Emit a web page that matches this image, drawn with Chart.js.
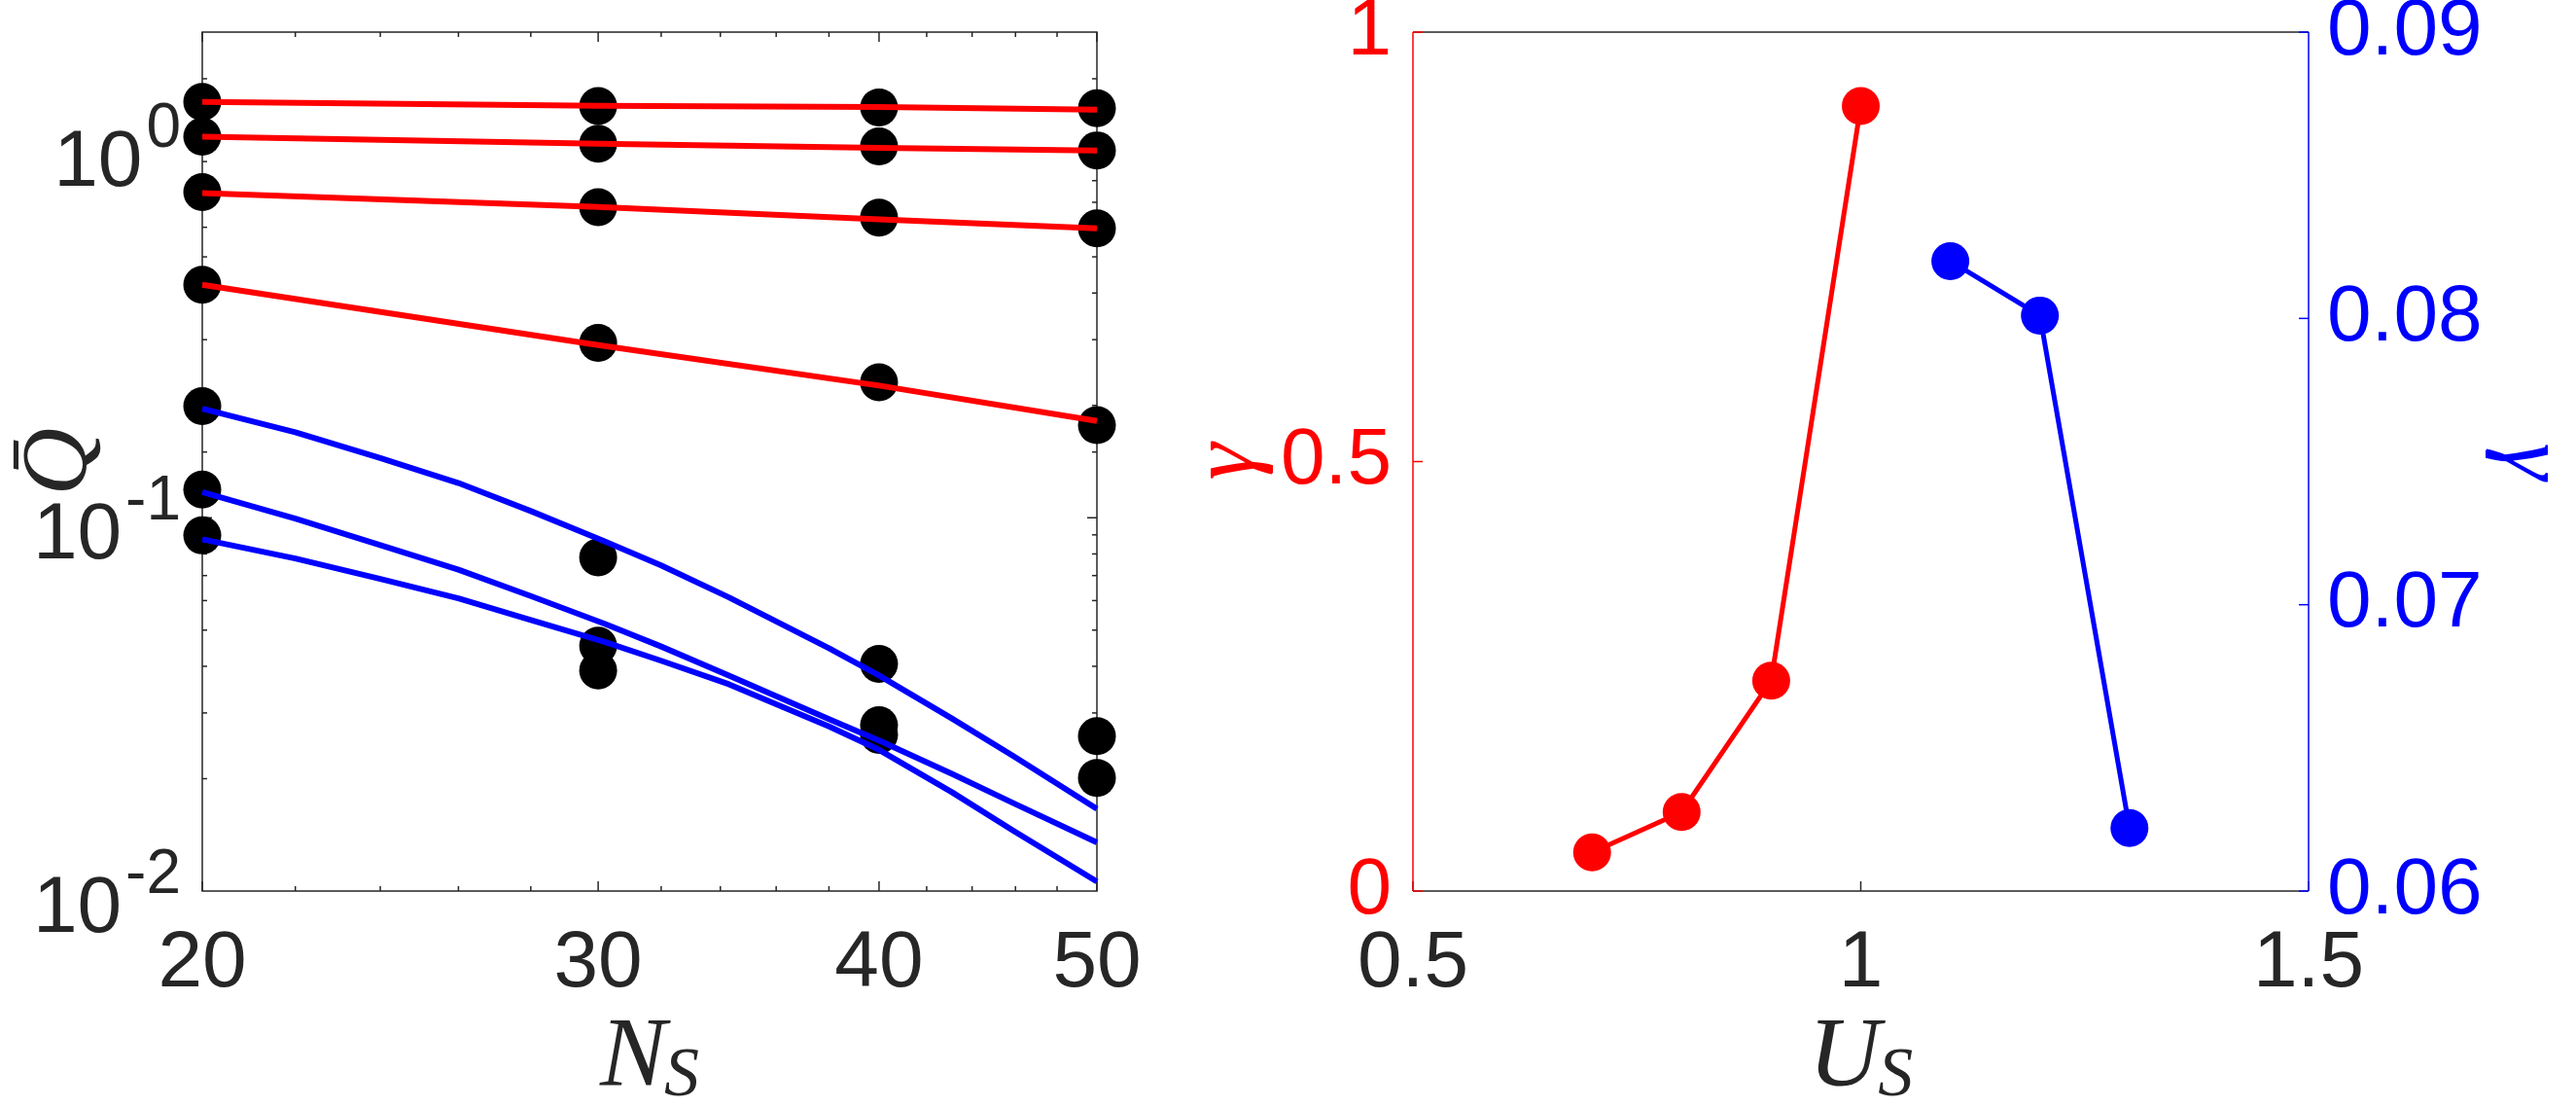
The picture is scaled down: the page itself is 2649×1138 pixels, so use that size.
<!DOCTYPE html>
<html lang="en">
<head>
<meta charset="UTF-8">
<title>Q bar vs N_S and gamma vs U_S</title>
<script src="https://cdn.jsdelivr.net/npm/chart.js"></script>
<style>
  html, body { margin: 0; padding: 0; background: #fff; }
  body { width: 2649px; height: 1138px; position: relative; overflow: hidden; }
  #leftWrap { position: absolute; left: 0; top: 0; width: 1200px; height: 1138px; }
  #rightWrap { position: absolute; left: 1200px; top: 0; width: 1449px; height: 1138px; }
</style>
</head>
<body>
<div id="leftWrap"><canvas id="qChart" width="1200" height="1138"></canvas></div>
<div id="rightWrap"><canvas id="gammaChart" width="1449" height="1138"></canvas></div>
<script>
// ---- left panel: Q bar against N_S (log-log) ----
const nValues = [20, 30, 40, 50];
// black dots at each N_S
const qAt20 = [1.30, 1.05, 0.745, 0.421, 0.199, 0.119, 0.0897];
const qAt30 = [1.267, 1.005, 0.679, 0.294, 0.0783, 0.0454, 0.039];
const qAt40 = [1.257, 0.988, 0.637, 0.2306, 0.0406, 0.0278, 0.0262];
const qAt50 = [1.25, 0.964, 0.596, 0.177, 0.026, 0.0201];

// red fits, read at N_S = 20, 30, 40, 50
const redFit1 = [1.30, 1.27, 1.26, 1.239];
const redFit2 = [1.05, 1.005, 0.98, 0.964];
const redFit3 = [0.741, 0.68, 0.63, 0.596];
const redFit4 = [0.421, 0.29, 0.226, 0.1817];

// blue fits at these N_S
const blueN = [20, 22, 24, 26, 28, 30.2, 32, 34.3, 38, 40, 43.1, 45.9, 50];
const blueFit1 = [0.196, 0.1694, 0.1445, 0.1239, 0.1042, 0.0865, 0.0745, 0.0612, 0.0447, 0.0378, 0.0290, 0.0230, 0.0166];
const blueFit2 = [0.1171, 0.0995, 0.0845, 0.0726, 0.0617, 0.0520, 0.0452, 0.0378, 0.0289, 0.0253, 0.0206, 0.0172, 0.0135];
const blueFit3 = [0.0876, 0.0778, 0.0686, 0.0608, 0.0532, 0.0465, 0.0414, 0.0358, 0.0276, 0.0239, 0.0184, 0.0145, 0.0106];

const nTicks = [20, 30, 40, 50];
const nMinorTicks = [22, 24, 26, 28, 32, 34, 36, 38, 42, 44, 46, 48];
const qDecades = [0.01, 0.1, 1];
const qDecadeExp = ['-2', '-1', '0'];

// ---- right panel: gamma against U_S ----
const usRed = [0.7, 0.8, 0.9, 1.0];
const gammaRed = [0.045, 0.092, 0.245, 0.914];
const usBlue = [1.1, 1.2, 1.3];
const gammaBlue = [0.0820, 0.0801, 0.0622];
const usTicks = [0.5, 1, 1.5];
const gammaRedTicks = [0, 0.5, 1];
const gammaBlueTicks = [0.06, 0.07, 0.08, 0.09];

const AXIS = '#262626';
const RED = '#ff0000';
const BLUE = '#0000ff';
const SANS = '"Liberation Sans", Arial, sans-serif';
const SERIF = '"Liberation Serif", "Times New Roman", serif';

function tick(ctx, x1, y1, x2, y2) {
    ctx.beginPath();
    ctx.moveTo(x1, y1);
    ctx.lineTo(x2, y2);
    ctx.stroke();
}

// italic symbol with a subscript, centred under the plot
function drawSubTitle(ctx, main, sub, cx, baseline) {
    ctx.save();
    ctx.fillStyle = AXIS;
    ctx.textAlign = 'left';
    ctx.textBaseline = 'alphabetic';
    ctx.font = 'italic 102px ' + SERIF;
    const wMain = ctx.measureText(main).width;
    ctx.font = 'italic 72px ' + SERIF;
    const wSub = ctx.measureText(sub).width;
    const x0 = cx - (wMain + wSub - 2) / 2;
    ctx.font = 'italic 102px ' + SERIF;
    ctx.fillText(main, x0, baseline);
    ctx.font = 'italic 72px ' + SERIF;
    ctx.fillText(sub, x0 + wMain - 2, baseline + 10);
    ctx.restore();
}

const qFrame = {
    id: 'qFrame',
    beforeDatasetsDraw(chart) {
        const {ctx, chartArea: a, scales: {x, y}} = chart;
        ctx.save();
        ctx.strokeStyle = AXIS;
        ctx.lineWidth = 1.5;
        ctx.strokeRect(a.left, a.top, a.right - a.left, a.bottom - a.top);
        nTicks.concat(nMinorTicks).forEach(v => {
            const px = x.getPixelForValue(v);
            const len = nTicks.includes(v) ? 10 : 5;
            tick(ctx, px, a.bottom, px, a.bottom - len);
            tick(ctx, px, a.top, px, a.top + len);
        });
        y.ticks.forEach(t => {
            const py = y.getPixelForValue(t.value);
            if (py < a.top + 1 || py > a.bottom - 1) return;
            const lg = Math.log10(t.value);
            const len = Math.abs(lg - Math.round(lg)) < 1e-6 ? 10 : 5;
            tick(ctx, a.left, py, a.left + len, py);
            tick(ctx, a.right, py, a.right - len, py);
        });
        ctx.restore();
    },
    afterDraw(chart) {
        const {ctx, chartArea: a, scales: {y}} = chart;
        ctx.save();
        ctx.fillStyle = AXIS;
        ctx.textAlign = 'right';
        ctx.textBaseline = 'alphabetic';
        qDecades.forEach((v, i) => {
            const py = y.getPixelForValue(v);
            const xr = a.left - 22;
            ctx.font = '64px ' + SANS;
            ctx.fillText(qDecadeExp[i], xr, py + 2);
            const w = ctx.measureText(qDecadeExp[i]).width;
            ctx.font = '82px ' + SANS;
            ctx.fillText('10', xr - w - 4, py + 42);
        });
        ctx.restore();
        drawSubTitle(ctx, 'N', 'S', (a.left + a.right) / 2, 1116);
    }
};

const gammaFrame = {
    id: 'gammaFrame',
    beforeDatasetsDraw(chart) {
        const {ctx, chartArea: a, scales: {x, y, y1}} = chart;
        ctx.save();
        ctx.lineWidth = 1.5;
        ctx.strokeStyle = AXIS;
        tick(ctx, a.left, a.top, a.right, a.top);
        tick(ctx, a.left, a.bottom, a.right, a.bottom);
        usTicks.forEach(v => {
            const px = x.getPixelForValue(v);
            tick(ctx, px, a.bottom, px, a.bottom - 10);
        });
        ctx.strokeStyle = RED;
        tick(ctx, a.left, a.top, a.left, a.bottom);
        gammaRedTicks.forEach(v => {
            const py = y.getPixelForValue(v);
            tick(ctx, a.left, py, a.left + 10, py);
        });
        ctx.strokeStyle = BLUE;
        tick(ctx, a.right, a.top, a.right, a.bottom);
        gammaBlueTicks.forEach(v => {
            const py = y1.getPixelForValue(v);
            tick(ctx, a.right, py, a.right - 10, py);
        });
        ctx.restore();
    },
    afterDraw(chart) {
        const a = chart.chartArea;
        drawSubTitle(chart.ctx, 'U', 'S', (a.left + a.right) / 2, 1116);
    }
};

function fixedWidth(w) {
    return s => { s.width = w; s.paddingTop = 0; s.paddingBottom = 0; };
}
function fixedHeight(h) {
    return s => { s.height = h; s.paddingLeft = 0; s.paddingRight = 0; };
}
function presetTicks(list) {
    return s => { s.ticks = list.map(v => ({value: v})); };
}

const tickFont = {family: SANS, size: 82, lineHeight: 1.2};

// ---- left chart ----
const dotPoints = [];
[qAt20, qAt30, qAt40, qAt50].forEach((arr, i) => {
    arr.forEach(q => dotPoints.push({x: nValues[i], y: q}));
});

function fitLine(xs, ys, color) {
    return {
        data: xs.map((n, i) => ({x: n, y: ys[i]})),
        showLine: true,
        borderColor: color,
        borderWidth: 6,
        borderJoinStyle: 'round',
        pointRadius: 0,
        tension: 0,
        clip: false,
        order: 0
    };
}

new Chart(document.getElementById('qChart'), {
    type: 'scatter',
    data: {
        datasets: [
            {
                data: dotPoints,
                pointRadius: 19.5,
                pointBackgroundColor: '#000',
                pointBorderWidth: 0,
                showLine: false,
                clip: false,
                order: 1
            },
            fitLine(nValues, redFit1, RED),
            fitLine(nValues, redFit2, RED),
            fitLine(nValues, redFit3, RED),
            fitLine(nValues, redFit4, RED),
            fitLine(blueN, blueFit1, BLUE),
            fitLine(blueN, blueFit2, BLUE),
            fitLine(blueN, blueFit3, BLUE)
        ]
    },
    options: {
        responsive: false,
        animation: false,
        devicePixelRatio: 1,
        events: [],
        layout: {padding: {top: 33, right: 72, bottom: 0, left: 0}},
        plugins: {legend: {display: false}, tooltip: {enabled: false}},
        scales: {
            x: {
                type: 'logarithmic',
                min: 20,
                max: 50,
                grid: {display: false, drawTicks: false},
                border: {display: false},
                afterBuildTicks: presetTicks(nTicks),
                afterFit: fixedHeight(222),
                ticks: {
                    font: tickFont,
                    color: AXIS,
                    padding: 26,
                    maxRotation: 0,
                    autoSkip: false,
                    callback: v => String(v)
                }
            },
            y: {
                type: 'logarithmic',
                min: 0.01,
                max: 2,
                grid: {display: false, drawTicks: false},
                border: {display: false},
                ticks: {display: false},
                afterFit: fixedWidth(208),
                title: {
                    display: true,
                    text: 'Q\u0304',
                    color: AXIS,
                    font: {family: SERIF, style: 'italic', size: 96, lineHeight: 1.2},
                    padding: {top: 5, bottom: 0}
                }
            }
        }
    },
    plugins: [qFrame]
});

// ---- right chart ----
new Chart(document.getElementById('gammaChart'), {
    type: 'scatter',
    data: {
        datasets: [
            {
                data: usRed.map((u, i) => ({x: u, y: gammaRed[i]})),
                yAxisID: 'y',
                showLine: true,
                borderColor: RED,
                borderWidth: 5,
                pointRadius: 19.5,
                pointBackgroundColor: RED,
                pointBorderWidth: 0,
                clip: false
            },
            {
                data: usBlue.map((u, i) => ({x: u, y: gammaBlue[i]})),
                yAxisID: 'y1',
                showLine: true,
                borderColor: BLUE,
                borderWidth: 5,
                pointRadius: 19.5,
                pointBackgroundColor: BLUE,
                pointBorderWidth: 0,
                clip: false
            }
        ]
    },
    options: {
        responsive: false,
        animation: false,
        devicePixelRatio: 1,
        events: [],
        layout: {padding: {top: 33, right: 0, bottom: 0, left: 0}},
        plugins: {legend: {display: false}, tooltip: {enabled: false}},
        scales: {
            x: {
                type: 'linear',
                min: 0.5,
                max: 1.5,
                grid: {display: false, drawTicks: false},
                border: {display: false},
                afterBuildTicks: presetTicks(usTicks),
                afterFit: fixedHeight(222),
                ticks: {
                    font: tickFont,
                    color: AXIS,
                    padding: 26,
                    maxRotation: 0,
                    autoSkip: false,
                    callback: v => String(v)
                }
            },
            y: {
                type: 'linear',
                position: 'left',
                min: 0,
                max: 1,
                grid: {display: false, drawTicks: false},
                border: {display: false},
                afterBuildTicks: presetTicks(gammaRedTicks),
                afterFit: fixedWidth(253),
                ticks: {font: tickFont, color: RED, padding: 22, callback: v => String(v)},
                title: {
                    display: true,
                    text: 'γ',
                    color: RED,
                    font: {family: SERIF, style: 'italic', size: 96, lineHeight: 1},
                    padding: {top: 16, bottom: 0}
                }
            },
            y1: {
                type: 'linear',
                position: 'right',
                min: 0.06,
                max: 0.09,
                grid: {display: false, drawTicks: false},
                border: {display: false},
                afterBuildTicks: presetTicks(gammaBlueTicks),
                afterFit: fixedWidth(275),
                ticks: {font: tickFont, color: BLUE, padding: 19, callback: v => String(v)},
                title: {
                    display: true,
                    text: 'γ',
                    color: BLUE,
                    font: {family: SERIF, style: 'italic', size: 96, lineHeight: 1},
                    padding: {top: 0, bottom: 0}
                }
            }
        }
    },
    plugins: [gammaFrame]
});
</script>
</body>
</html>
